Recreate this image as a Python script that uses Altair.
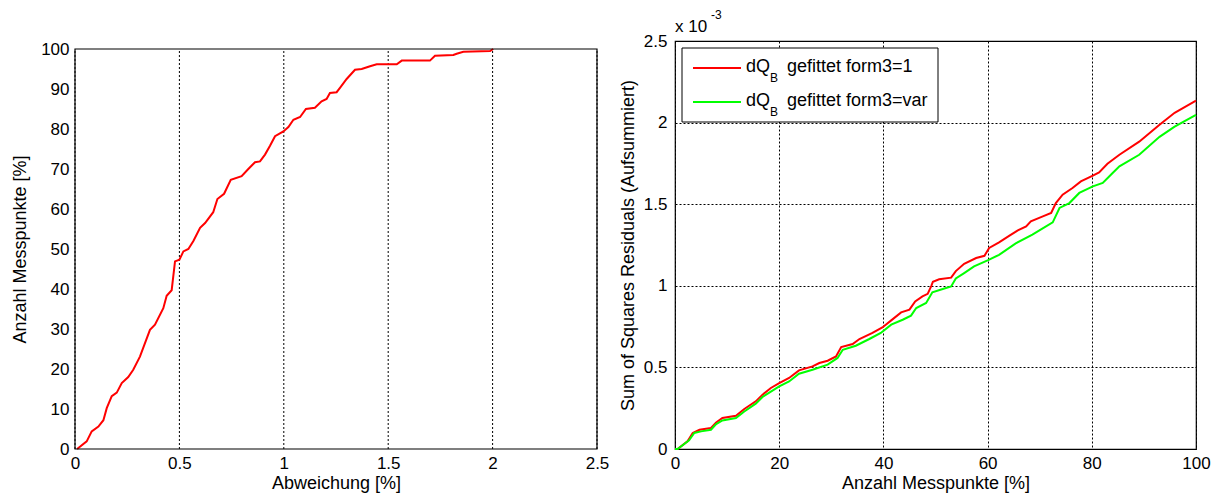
import altair as alt
import pandas as pd

FONT = "Liberation Sans"

# ---------------- Left panel data: Abweichung [%] vs Anzahl Messpunkte [%] ----
abw_x = [0.01, 0.056, 0.08, 0.112, 0.136, 0.152, 0.176, 0.2, 0.224, 0.255, 0.279,
         0.311, 0.359, 0.383, 0.423, 0.439, 0.463, 0.479, 0.5, 0.519, 0.543, 0.567,
         0.599, 0.623, 0.662, 0.682, 0.714, 0.746, 0.798, 0.83, 0.862, 0.886, 0.91,
         0.934, 0.958, 0.998, 1.022, 1.046, 1.078, 1.106, 1.149, 1.181, 1.205, 1.221,
         1.253, 1.269, 1.301, 1.341, 1.373, 1.413, 1.445, 1.541, 1.565, 1.7, 1.724,
         1.812, 1.828, 1.86, 1.988, 2.003]
abw_y = [0, 1.9, 4.4, 5.6, 7.2, 10.2, 13.2, 14.1, 16.5, 18.0, 19.8,
         23.1, 29.8, 31.1, 35.2, 38.3, 39.7, 46.9, 47.3, 49.4, 50.0, 52.0,
         55.3, 56.5, 59.2, 62.5, 63.8, 67.3, 68.2, 70.0, 71.7, 71.9, 73.6,
         75.8, 78.2, 79.4, 80.5, 82.3, 83.0, 85.0, 85.3, 86.9, 87.5, 89.0,
         89.2, 90.3, 92.5, 94.8, 95.0, 95.7, 96.2, 96.2, 97.1, 97.1, 98.3,
         98.5, 98.8, 99.3, 99.5, 100.0]

# ---------------- Right panel data (y in units of 1e-3) ----------------------
red_x = [0, 0.5, 2.4, 3.4, 4.7, 6.9, 7.9, 9.1, 11.7, 13.3, 15.5, 16.8, 18.4, 20,
         21.9, 23.8, 26.4, 27.7, 29.3, 30.9, 31.9, 34.1, 35.4, 37.9, 39.8, 41.5,
         43.4, 45, 46.1, 47.5, 48.5, 49.2, 49.5, 50.7, 53, 53.9, 55.5, 57.8, 59.4,
         60.3, 62.2, 64.2, 65.8, 67.4, 68.3, 70.6, 72.2, 73.1, 74.4, 76.3, 77.9,
         80.2, 81.4, 83, 85.3, 89.1, 93, 95.9, 100]
red_y = [0, 0, 0.047, 0.098, 0.118, 0.129, 0.163, 0.19, 0.204, 0.245, 0.292, 0.333,
         0.374, 0.404, 0.435, 0.482, 0.506, 0.527, 0.541, 0.567, 0.625, 0.643, 0.674,
         0.711, 0.745, 0.788, 0.837, 0.854, 0.904, 0.935, 0.951, 1.0, 1.025, 1.04,
         1.05, 1.09, 1.135, 1.17, 1.184, 1.232, 1.266, 1.307, 1.339, 1.364, 1.395,
         1.425, 1.446, 1.507, 1.558, 1.599, 1.64, 1.675, 1.695, 1.748, 1.803, 1.883,
         1.987, 2.06, 2.134]
green_x = [0, 0.5, 2.7, 3.7, 5, 6.9, 7.9, 9.1, 11.7, 13.3, 15.5, 16.8, 20, 21.9,
           23.8, 26.4, 29.3, 31.2, 32.2, 34.7, 37.3, 39.5, 41.5, 43.7, 45.3, 46.3,
           48.2, 49.4, 51.4, 53, 53.9, 55.5, 57.4, 60, 62.2, 65.4, 68.6, 70.5, 72.5,
           73.8, 75.7, 77.6, 80.2, 82.1, 84, 85.3, 89.1, 93, 95.9, 100]
green_y = [0, 0, 0.053, 0.098, 0.108, 0.118, 0.153, 0.175, 0.19, 0.23, 0.278, 0.319,
           0.384, 0.414, 0.461, 0.486, 0.517, 0.558, 0.608, 0.633, 0.674, 0.711,
           0.762, 0.792, 0.817, 0.864, 0.895, 0.96, 0.98, 0.996, 1.045, 1.078, 1.119,
           1.156, 1.19, 1.26, 1.313, 1.35, 1.389, 1.477, 1.507, 1.569, 1.609, 1.63,
           1.691, 1.732, 1.803, 1.913, 1.975, 2.048]

series_names = ["form3=1", "form3=var"]
series_colors = ["#ff0000", "#00ff00"]

left_ticks_x = [0, 0.5, 1, 1.5, 2, 2.5]
left_ticks_y = list(range(0, 101, 10))
right_ticks_x = [0, 20, 40, 60, 80, 100]
right_ticks_y = [0, 0.5, 1, 1.5, 2, 2.5]

GRID_DASH = [2, 2]
one = pd.DataFrame({"a": [0]})

# ---------------- Left chart ----------------
# Panel is 408 px tall like the right one; the plot area uses its lower 400 px.
left_df = pd.DataFrame({"x": abw_x, "y": abw_y})
xs = alt.Scale(domain=[0, 2.5], nice=False, zero=False)
ys = alt.Scale(domain=[0, 100], nice=False, range=[408, 8])

left_line = alt.Chart(left_df).mark_line(color="#ff0000", strokeWidth=2).encode(
    x=alt.X("x:Q", scale=xs,
            axis=alt.Axis(title="Abweichung [%]", values=left_ticks_x, format=".1~f",
                          labelPadding=6, titlePadding=3, grid=False)),
    y=alt.Y("y:Q", scale=ys,
            axis=alt.Axis(title="Anzahl Messpunkte [%]", values=left_ticks_y,
                          labelPadding=6, titlePadding=11, titleY=208)),
)
left_vgrid = alt.Chart(pd.DataFrame({"g": left_ticks_x})).mark_rule(
    color="black", strokeDash=GRID_DASH, strokeWidth=1, opacity=1).encode(
    x=alt.X("g:Q", scale=xs), y=alt.datum(0), y2=alt.datum(100))
left_frame = alt.Chart(one).mark_rect(
    fill="white", fillOpacity=0, stroke="black", strokeWidth=1.2).encode(
    x=alt.datum(0), x2=alt.datum(2.5), y=alt.datum(0), y2=alt.datum(100))

left = alt.layer(left_vgrid, left_line, left_frame).properties(
    width=522, height=408, view=alt.ViewConfig(stroke="transparent"))

# ---------------- Right chart ----------------
right_df = pd.concat([
    pd.DataFrame({"x": red_x, "y": red_y, "s": series_names[0]}),
    pd.DataFrame({"x": green_x, "y": green_y, "s": series_names[1]}),
])
right_lines = alt.Chart(right_df).mark_line(strokeWidth=2).encode(
    x=alt.X("x:Q", scale=alt.Scale(domain=[0, 100], nice=False),
            axis=alt.Axis(title="Anzahl Messpunkte [%]", values=right_ticks_x,
                          labelPadding=6, titlePadding=3)),
    y=alt.Y("y:Q", scale=alt.Scale(domain=[0, 2.5], nice=False),
            axis=alt.Axis(title="Sum of Squares Residuals (Aufsummiert)",
                          values=right_ticks_y, format=".1~f",
                          labelPadding=8, titlePadding=6)),
    color=alt.Color("s:N", scale=alt.Scale(domain=series_names, range=series_colors),
                    legend=None),
    detail="s:N",
)

base = alt.Chart(one)
leg_box = base.mark_rect(fill="white", stroke="black", strokeWidth=1).encode(
    x=alt.value(7), x2=alt.value(263), y=alt.value(7), y2=alt.value(81))
leg_r1 = base.mark_rule(color=series_colors[0], strokeWidth=2).encode(
    x=alt.value(18), x2=alt.value(66), y=alt.value(27))
leg_r2 = base.mark_rule(color=series_colors[1], strokeWidth=2).encode(
    x=alt.value(18), x2=alt.value(66), y=alt.value(61))


def txt(s, x, y, size):
    return base.mark_text(text=s, font=FONT, fontSize=size, align="left",
                          baseline="alphabetic", color="black").encode(
        x=alt.value(x), y=alt.value(y))


legend_layers = [
    leg_box, leg_r1, leg_r2,
    txt("dQ", 71, 31, 18), txt("B", 95, 41, 12),
    txt("gefittet form3=1", 112, 31, 18),
    txt("dQ", 71, 65, 18), txt("B", 95, 75, 12),
    txt("gefittet form3=var", 112, 65, 18),
]
exponent_layers = [txt("x 10", 0, -9, 17), txt("-3", 36, -22, 12)]

right = alt.layer(right_lines, *legend_layers, *exponent_layers).properties(
    width=521, height=408)

chart = alt.hconcat(left, right, spacing=8).properties(
    padding={"left": 11, "top": 8, "right": 5, "bottom": 2}
).configure_axis(
    labelFont=FONT, titleFont=FONT, labelFontSize=17, titleFontSize=18,
    titleFontWeight="normal", labelColor="black", titleColor="black",
    gridColor="black", gridDash=GRID_DASH, gridOpacity=1, gridWidth=1,
    domain=False, ticks=False, labelFlush=False,
).configure_view(stroke="black", strokeWidth=1.2)

chart.save("out.html", embed_options={"renderer": "svg", "actions": False})
